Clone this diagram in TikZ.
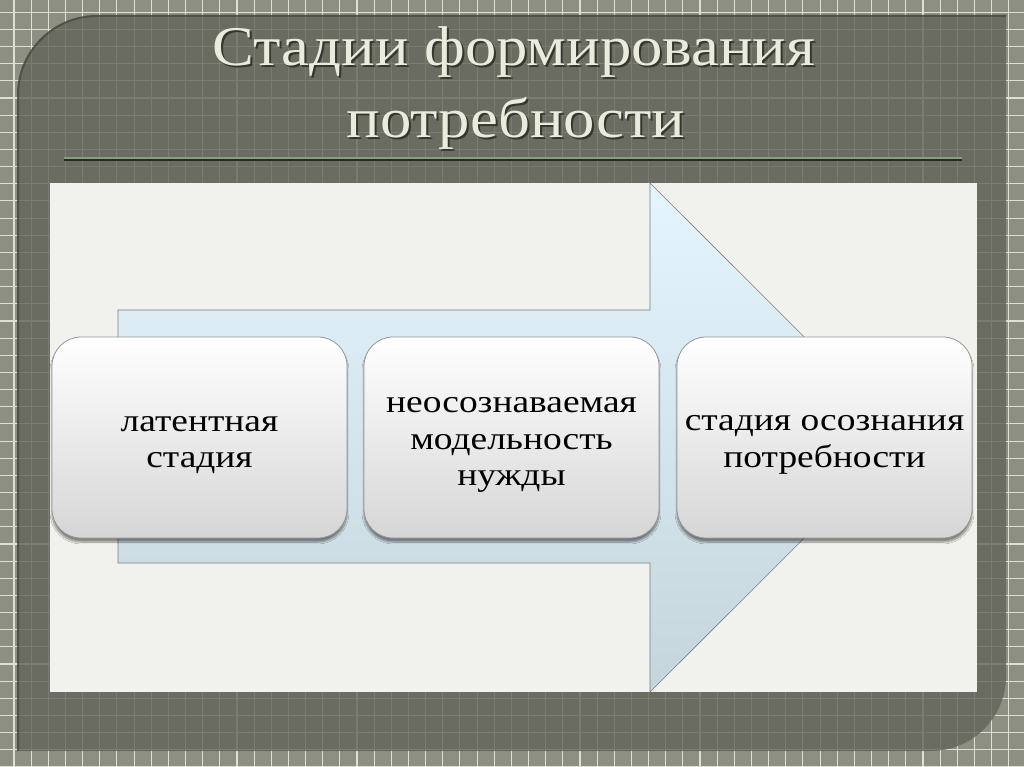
\documentclass[tikz,border=0pt]{standalone}
\usepackage{fontspec}
\setmainfont{Liberation Serif}
\newfontfamily\titlefont[FakeStretch=1.12]{Liberation Serif}
\newfontfamily\boxfont[FakeStretch=1.17]{Liberation Serif}
\usetikzlibrary{shadows.blur}
\definecolor{bgc}{RGB}{141,143,130}
\definecolor{gridc}{RGB}{222,224,212}
\definecolor{panelc}{RGB}{98,100,89}
\definecolor{titlec}{RGB}{234,235,220}
\definecolor{titleshadow}{RGB}{40,42,34}
\definecolor{sepgreen}{RGB}{130,165,128}
\definecolor{sepdark}{RGB}{38,44,36}
\definecolor{contentc}{RGB}{241,241,237}
\definecolor{arrowtop}{RGB}{228,245,253}
\definecolor{arrowbot}{RGB}{196,213,220}
\definecolor{arrowline}{RGB}{120,125,128}
\definecolor{boxbot}{RGB}{214,214,214}
\definecolor{boxline}{RGB}{150,150,150}
\newcommand{\toppad}{\rule{0pt}{30pt}}
\tikzset{
  gridline/.style={draw=gridc, line width=1.1pt},
  titletext/.style={text=titlec, font=\titlefont\fontsize{56}{60}\selectfont, anchor=base, inner sep=0pt},
  titleshade/.style={text=titleshadow, opacity=0.8, font=\titlefont\fontsize{56}{60}\selectfont, anchor=base, inner sep=0pt},
  stagebox/.style={rounded corners=29pt, minimum width=295pt, minimum height=201pt,
    top color=white, bottom color=boxbot, draw=boxline, line width=0.8pt,
    align=center, text=black, font=\boxfont\fontsize{32}{36.5}\selectfont,
    blur shadow={shadow xshift=0pt, shadow yshift=-4pt, shadow blur steps=8, shadow opacity=45}},
}
\begin{document}
\begin{tikzpicture}[x=1pt,y=-1pt]
\useasboundingbox (0,0) rectangle (1024,767);
\fill[bgc] (0,0) rectangle (1024,767);
\foreach \k in {0,...,58} \draw[gridline] ({14+\k*17.15},0) -- ({14+\k*17.15},767);
\foreach \k in {0,...,44} \draw[gridline] (0,{12.3+\k*17.15}) -- (1024,{12.3+\k*17.15});
% dark panel
\fill[panelc, opacity=0.8] (17,751) -- (17,95) .. controls (17,50.8) and (52.8,15) .. (97,15) -- (1006,15) -- (1006,676) .. controls (1006,717.4) and (972.4,751) .. (931,751) -- cycle;
\draw[black, opacity=0.25, line width=2pt] (18,751) -- (18,95) .. controls (18,51.5) and (53.5,16) .. (97,16) -- (1006,16);
% title
\node[titleshade] (t1s) at (516,68) {Стадии формирования};
\node[titleshade] (t2s) at (518,140) {потребности};
\node[titletext] (t1) at (514,66) {Стадии формирования};
\node[titletext] (t2) at (516,138) {потребности};
% separator
\draw[sepgreen, line width=1.5pt] (64,158) -- (962,158);
\draw[sepdark, line width=1.5pt] (64,160) -- (962,160);
% content area
\fill[contentc] (50,183) rectangle (977,692);
% arrow
\shadedraw[top color=arrowtop, bottom color=arrowbot, draw=arrowline, line width=0.6pt]
  (118,310) -- (650,310) -- (650,183) -- (905,437.5) -- (650,692) -- (650,563) -- (118,563) -- cycle;
% stages
\node[stagebox] (b1) at (199.5,437.5) {\toppad латентная\\стадия};
\node[stagebox] (b2) at (511.5,437.5) {\toppad неосознаваемая\\модельность\\нужды};
\node[stagebox] (b3) at (824.5,437.5) {\toppad стадия осознания\\потребности};
\end{tikzpicture}
\end{document}
